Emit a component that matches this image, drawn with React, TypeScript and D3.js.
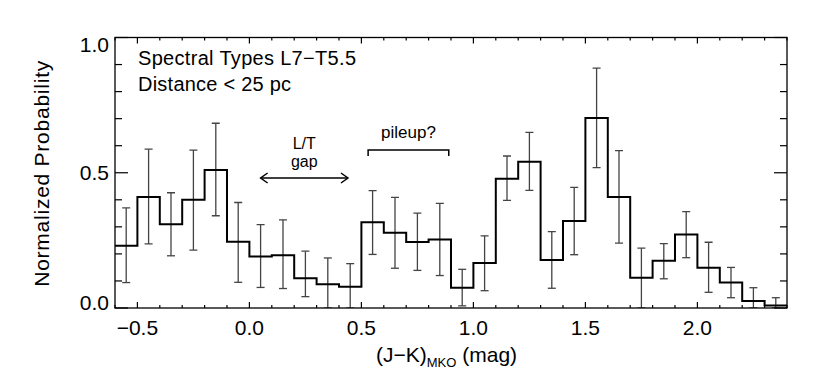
import React from 'react';
import * as d3 from 'd3';

// Histogram bins (left edges), normalized probability and error bar bounds
const binLefts = [-0.6, -0.5, -0.4, -0.3, -0.2, -0.1, 0.0, 0.1, 0.2, 0.3, 0.4, 0.5, 0.6, 0.7, 0.8, 0.9, 1.0, 1.1, 1.2, 1.3, 1.4, 1.5, 1.6, 1.7, 1.8, 1.9, 2.0, 2.1, 2.2, 2.3];
const binWidth = 0.1;
const values = [0.23, 0.41, 0.31, 0.40, 0.51, 0.245, 0.19, 0.195, 0.11, 0.088, 0.079, 0.317, 0.278, 0.244, 0.253, 0.075, 0.166, 0.478, 0.541, 0.177, 0.322, 0.702, 0.41, 0.112, 0.175, 0.272, 0.149, 0.094, 0.026, 0.009];
const errUpper = [0.37, 0.587, 0.426, 0.584, 0.683, 0.39, 0.308, 0.326, 0.21, 0.185, 0.164, 0.434, 0.409, 0.351, 0.387, 0.143, 0.267, 0.562, 0.649, 0.282, 0.446, 0.887, 0.582, 0.221, 0.238, 0.356, 0.243, 0.15, 0.075, 0.038];
const errLower = [0.094, 0.237, 0.193, 0.214, 0.341, 0.095, 0.076, 0.072, 0.042, 0, 0, 0.198, 0.147, 0.139, 0.12, 0.008, 0.064, 0.398, 0.435, 0.073, 0.197, 0.519, 0.24, 0, 0.108, 0.186, 0.058, 0.038, 0, 0];

const xMajorTicks = [-0.5, 0.0, 0.5, 1.0, 1.5, 2.0];
const xTickLabels = ['\u22120.5', '0.0', '0.5', '1.0', '1.5', '2.0'];
const yMajorTicks = [0, 0.5, 1.0];
const yTickLabels = ['0.0', '0.5', '1.0'];

const xDomain: [number, number] = [-0.6, 2.4];
const yDomain: [number, number] = [0, 1.0];

const annTitle1 = 'Spectral Types L7\u2212T5.5';
const annTitle2 = 'Distance < 25 pc';
const gapLabel = ['L/T', 'gap'];
const gapRange = [0.05, 0.44];
const pileupLabel = 'pileup?';
const pileupRange = [0.53, 0.89];

const FONT = '"Liberation Sans", Arial, Helvetica, sans-serif';

export default function App() {
  const W = 822, H = 382;
  const left = 115, right = 787, top = 37.5, bottom = 308;
  const x = d3.scaleLinear().domain(xDomain).range([left, right]);
  const y = d3.scaleLinear().domain(yDomain).range([bottom, top]);

  const pts: [number, number][] = binLefts.map((b, i) => [b, values[i]]);
  pts.push([binLefts[binLefts.length - 1] + binWidth, values[values.length - 1]]);
  const stepPath = d3.line<[number, number]>()
    .x(d => x(d[0]))
    .y(d => y(d[1]))
    .curve(d3.curveStepAfter)(pts) || '';

  const xMinor = d3.range(-6, 25).map(i => i / 10);
  const yMinor = d3.range(0, 11).map(i => i / 10);

  const axisColor = '#000';
  const capHalf = 4;
  const gapMid = x((gapRange[0] + gapRange[1]) / 2);

  return (
    <svg width={W} height={H} style={{ position: 'absolute', left: 0, top: 0 }} fontFamily={FONT}>
      <rect x={0} y={0} width={W} height={H} fill="#fff" />
      <defs>
        <clipPath id="plotclip">
          <rect x={left} y={top} width={right - left} height={bottom - top} />
        </clipPath>
      </defs>

      {/* error bars */}
      <g clipPath="url(#plotclip)" stroke="#444" strokeWidth={1.3} fill="none">
        {binLefts.map((b, i) => {
          const cx = x(b + binWidth / 2);
          const y1 = y(errUpper[i]);
          const y0 = y(errLower[i]);
          return (
            <g key={i}>
              <line x1={cx} x2={cx} y1={y1} y2={y0} />
              <line x1={cx - capHalf} x2={cx + capHalf} y1={y1} y2={y1} />
              <line x1={cx - capHalf} x2={cx + capHalf} y1={y0} y2={y0} />
            </g>
          );
        })}
      </g>

      {/* histogram */}
      <path d={stepPath} clipPath="url(#plotclip)" fill="none" stroke="#000" strokeWidth={2} />

      {/* frame */}
      <rect x={left} y={top} width={right - left} height={bottom - top} fill="none" stroke={axisColor} strokeWidth={1.3} />

      {/* ticks */}
      <g stroke={axisColor} strokeWidth={1.2}>
        {xMinor.map((t, i) => {
          const major = xMajorTicks.some(m => Math.abs(m - t) < 1e-6);
          const len = major ? 6 : 3;
          return (
            <g key={i}>
              <line x1={x(t)} x2={x(t)} y1={bottom} y2={bottom - len} />
              <line x1={x(t)} x2={x(t)} y1={top} y2={top + len} />
            </g>
          );
        })}
        {yMinor.map((t, i) => {
          const major = yMajorTicks.some(m => Math.abs(m - t) < 1e-6);
          const len = major ? 13 : 7;
          return (
            <g key={i}>
              <line x1={left} x2={left + len} y1={y(t)} y2={y(t)} />
              <line x1={right} x2={right - len} y1={y(t)} y2={y(t)} />
            </g>
          );
        })}
      </g>

      {/* x tick labels */}
      <g fontSize={21} fill="#000" textAnchor="middle">
        {xMajorTicks.map((t, i) => (
          <text key={i} x={x(t)} y={335}>{xTickLabels[i]}</text>
        ))}
      </g>
      {/* y tick labels */}
      <g fontSize={21} fill="#000" textAnchor="end">
        {yMajorTicks.map((t, i) => {
          const off = i === 0 ? -5.5 : i === yMajorTicks.length - 1 ? 6.5 : 0;
          return (
            <text key={i} x={109} y={y(t) + off} dominantBaseline="central">{yTickLabels[i]}</text>
          );
        })}
      </g>

      {/* axis titles */}
      <text x={376} y={362} fontSize={21} fill="#000">
        (J{'\u2212'}K)<tspan fontSize={13} dy={5}>MKO</tspan><tspan dy={-5}> (mag)</tspan>
      </text>
      <text transform={`translate(49,${(top + bottom) / 2 + 1}) rotate(-90)`} textAnchor="middle" fontSize={21} fill="#000" textLength={226} lengthAdjust="spacing">
        Normalized Probability
      </text>

      {/* annotations */}
      <text x={138} y={65} fontSize={20} fill="#000" textLength={218} lengthAdjust="spacing">{annTitle1}</text>
      <text x={138} y={91} fontSize={20} fill="#000" textLength={153} lengthAdjust="spacing">{annTitle2}</text>

      <text x={gapMid} y={149} fontSize={16} textAnchor="middle" fill="#000">{gapLabel[0]}</text>
      <text x={gapMid} y={167} fontSize={16} textAnchor="middle" fill="#000">{gapLabel[1]}</text>
      <g stroke="#000" strokeWidth={1.5} fill="none">
        <line x1={x(gapRange[0])} x2={x(gapRange[1])} y1={178} y2={178} />
        <polyline points={`${x(gapRange[0]) + 7},${173} ${x(gapRange[0])},${178} ${x(gapRange[0]) + 7},${183}`} />
        <polyline points={`${x(gapRange[1]) - 7},${173} ${x(gapRange[1])},${178} ${x(gapRange[1]) - 7},${183}`} />
      </g>

      <text x={x((pileupRange[0] + pileupRange[1]) / 2)} y={138} fontSize={17} textAnchor="middle" fill="#000">{pileupLabel}</text>
      <polyline
        points={`${x(pileupRange[0])},156 ${x(pileupRange[0])},150 ${x(pileupRange[1])},150 ${x(pileupRange[1])},156`}
        fill="none" stroke="#000" strokeWidth={1.5}
      />
    </svg>
  );
}
